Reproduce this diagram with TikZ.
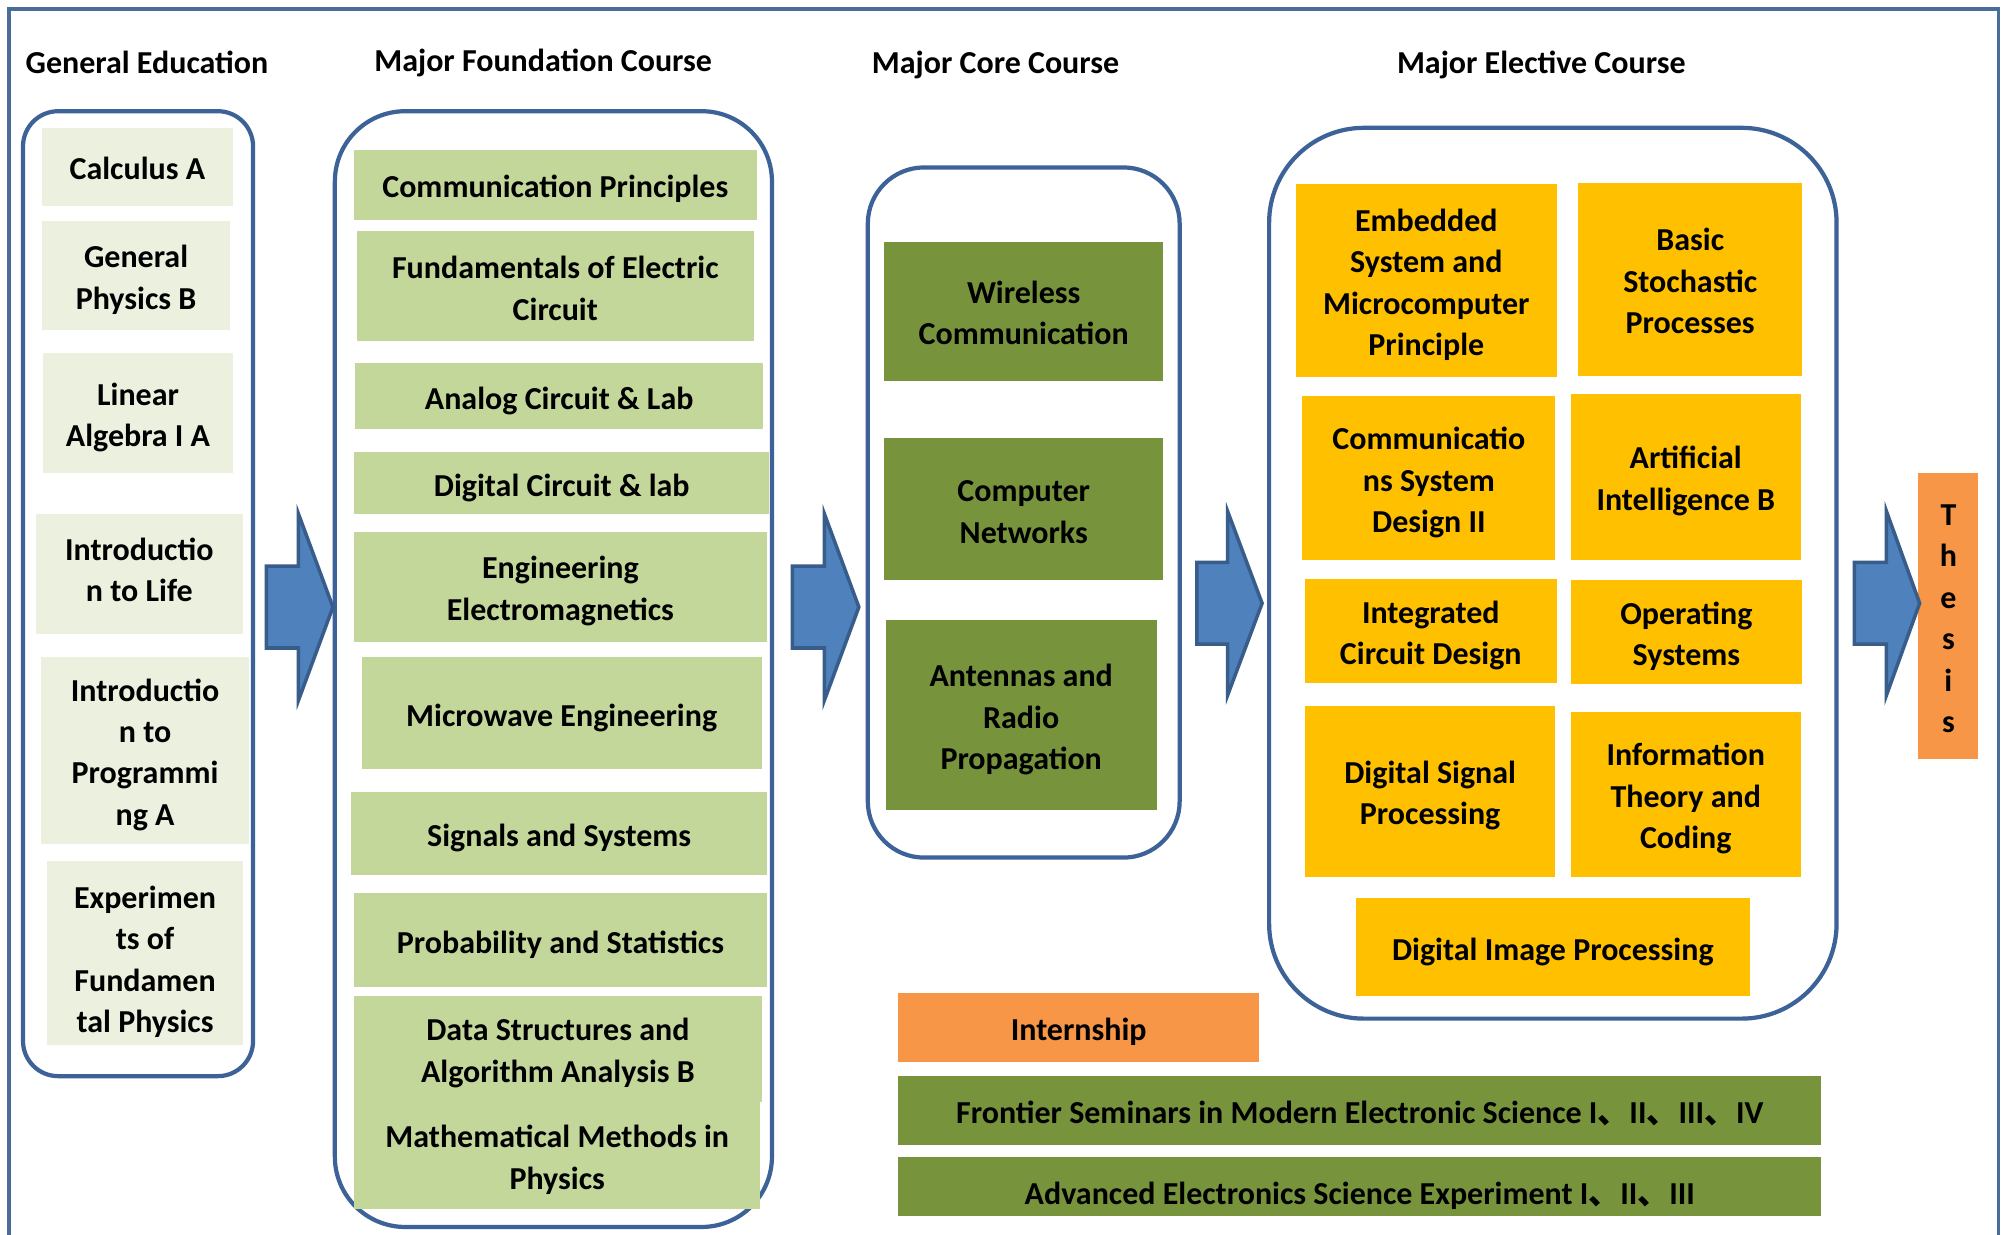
\documentclass[tikz,border=0pt]{standalone}
\usepackage{fontspec}
\setmainfont{Carlito}
\newfontfamily\cjk{Noto Sans CJK SC}
\definecolor{frameblue}{HTML}{4A6D9C}
\definecolor{edgeblue}{HTML}{3D6297}
\definecolor{arrowblue}{HTML}{4F81BD}
\definecolor{arrowedge}{HTML}{385D8A}
\definecolor{paleg}{HTML}{EBF1DE}
\definecolor{lightg}{HTML}{C4D79B}
\definecolor{oliveg}{HTML}{77933C}
\definecolor{amber}{HTML}{FFC000}
\definecolor{tang}{HTML}{F79646}
\tikzset{
  coursefont/.style={font=\bfseries\fontsize{9.1}{11.8}\selectfont},
  colhead/.style={coursefont},
  gbox/.style={draw=edgeblue, line width=1.2pt, fill=white, outer sep=0pt},
  course/.style={coursefont, align=center, inner sep=1pt, outer sep=0pt,
    execute at end node={\rule[-2.2pt]{0pt}{0pt}}},
  gened/.style={course, fill=paleg},
  found/.style={course, fill=lightg},
  core/.style={course, fill=oliveg},
  elect/.style={course, fill=amber},
  extra/.style={course, fill=tang},
  blockarrow/.style={draw=arrowedge, line width=1pt, fill=arrowblue, line join=miter},
}
% box from corner (x1,y1) to corner (x2,y2), in picture pixels
\newcommand{\coursebox}[7]{%
  \node[#2, minimum width={(#5-#3)*0.3636pt}, minimum height={(#6-#4)*0.3636pt}]
    (#1) at ({(#3+#5)/2},{(#4+#6)/2}) {\rule{0pt}{9.6pt}#7};}

\begin{document}
\begin{tikzpicture}[x=0.3636pt, y=-0.3636pt]
\useasboundingbox (0,0) rectangle (1568,966);
\clip (0,0) rectangle (1568,966);
\fill[white] (0,0) rectangle (1568,966);
\draw[frameblue, line width=0.9pt] (7,990) -- (7,7) -- (1564,7) -- (1564,990);

% column titles
\node[colhead] (genhead) at (115,49) {General Education};
\node[colhead] (foundhead) at (425,49) {Major Foundation Course};
\node[colhead] (corehead) at (779,51) {Major Core Course};
\node[colhead] (electhead) at (1206,51) {Major Elective Course};

% rounded groups
\coursebox{gen}{gbox, rounded corners=10pt}{18}{87}{198}{842}{}
\coursebox{fnd}{gbox, rounded corners=20pt}{262}{87}{604}{960}{}
\coursebox{cor}{gbox, rounded corners=16pt}{679}{131}{923}{671}{}
\coursebox{ele}{gbox, rounded corners=27pt}{993}{100}{1437}{797}{}

% general education
\coursebox{calc}{gened}{33}{100}{182}{161}{Calculus A}
\coursebox{phys}{gened}{33}{173}{180}{258}{General\\Physics B}
\coursebox{linalg}{gened}{34}{276}{182}{370}{Linear\\Algebra I A}
\coursebox{life}{gened, execute at end node={\rule[-5.4pt]{0pt}{0pt}}}{28}{402}{190}{496}{Introductio\\n to Life}
\coursebox{prog}{gened}{32}{514}{195}{660}{Introductio\\n to\\Programmi\\ng A}
\coursebox{expt}{gened}{37}{674}{190}{818}{\rule{0pt}{12pt}Experimen\\ts of\\Fundamen\\tal Physics}

% major foundation
\coursebox{comm}{found}{277}{117}{592}{172}{Communication Principles}
\coursebox{circ}{found}{279}{181}{590}{267}{Fundamentals of Electric\\Circuit}
\coursebox{analog}{found}{278}{284}{597}{336}{Analog Circuit \& Lab}
\coursebox{digi}{found}{277}{354}{602}{402}{Digital Circuit \& lab}
\coursebox{emag}{found}{277}{416}{600}{502}{Engineering\\Electromagnetics}
\coursebox{micro}{found}{283}{514}{596}{602}{Microwave Engineering}
\coursebox{sigsys}{found}{275}{620}{600}{685}{Signals and Systems}
\coursebox{prob}{found}{277}{699}{600}{772}{Probability and Statistics}
\coursebox{dsa}{found}{277}{779}{596}{862}{Data Structures and\\Algorithm Analysis B}
\coursebox{mmp}{found}{277}{862}{595}{946}{Mathematical Methods in\\Physics}

% major core
\coursebox{wless}{core}{692}{189}{910}{298}{Wireless\\Communication}
\coursebox{net}{core}{692}{343}{910}{454}{Computer\\Networks}
\coursebox{ant}{core}{693}{485}{905}{634}{Antennas and\\Radio\\Propagation}

% major elective
\coursebox{emb}{elect}{1014}{144}{1218}{295}{Embedded\\System and\\Microcomputer\\Principle}
\coursebox{stoch}{elect}{1235}{143}{1410}{294}{Basic\\Stochastic\\Processes}
\coursebox{csd}{elect}{1019}{310}{1217}{438}{Communicatio\\ns System\\Design II}
\coursebox{ai}{elect}{1229}{308}{1409}{438}{Artificial\\Intelligence B}
\coursebox{icd}{elect}{1021}{453}{1218}{534}{Integrated\\Circuit Design}
\coursebox{os}{elect}{1229}{454}{1410}{535}{Operating\\Systems}
\coursebox{dsp}{elect}{1021}{552}{1217}{686}{Digital Signal\\Processing}
\coursebox{itc}{elect}{1229}{557}{1409}{686}{Information\\Theory and\\Coding}
\coursebox{dip}{elect}{1061}{703}{1369}{779}{Digital Image Processing}

% thesis and practice
\coursebox{thesis}{extra}{1501}{370}{1548}{594}{T\\h\\e\\s\\i\\s}
\coursebox{intern}{extra}{703}{777}{985}{831}{Internship}
\coursebox{front}{core}{703}{842}{1425}{896}{Frontier Seminars in Modern Electronic Science I{\cjk 、}II{\cjk 、}III{\cjk 、}IV}
\coursebox{adv}{core}{703}{906}{1425}{951}{\rule{0pt}{12.5pt}Advanced Electronics Science Experiment I{\cjk 、}II{\cjk 、}III}

% block arrows between the groups
\draw[blockarrow] (260.5,475) -- ++(-27,-73) -- ++(0,41) -- ++(-25,0) -- ++(0,64) -- ++(25,0) -- ++(0,41) -- cycle;
\draw[blockarrow] (672,475) -- ++(-27,-73) -- ++(0,41) -- ++(-25,0) -- ++(0,64) -- ++(25,0) -- ++(0,41) -- cycle;
\draw[blockarrow] (987.5,472) -- ++(-27,-72) -- ++(0,40) -- ++(-24,0) -- ++(0,64) -- ++(24,0) -- ++(0,40) -- cycle;
\draw[blockarrow] (1502,472) -- ++(-26,-72) -- ++(0,40) -- ++(-25,0) -- ++(0,64) -- ++(25,0) -- ++(0,40) -- cycle;
\end{tikzpicture}
\end{document}
